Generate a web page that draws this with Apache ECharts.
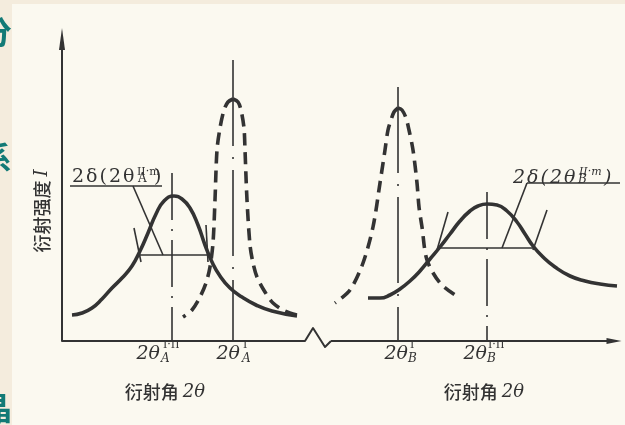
<!DOCTYPE html>
<html>
<head>
<meta charset="utf-8">
<script src="https://cdn.jsdelivr.net/npm/echarts@6/dist/echarts.min.js"></script>
<style>
html,body{margin:0;padding:0;background:#f4ecdd;}
#c{width:625px;height:425px;}
</style>
</head>
<body>
<div id="c"></div>
<script>
// ---------------- data (schematic units: x = 2θ, y = intensity I) ----------------
// broad peak of sample A (solid), sharp reference peak of A (dashed)
const broadA = [[2.0,5.2],[4.0,5.6],[6.0,6.6],[8.0,8.4],[10.0,10.6],[12.0,12.6],[14.0,15.0],[15.6,18.0],[17.2,21.6],[18.8,25.4],[20.4,28.0],[22.4,29.0],[24.0,28.4],[25.6,26.6],[27.2,23.2],[28.6,19.2],[30.0,15.8],[31.6,13.0],[33.6,10.6],[36.0,8.8],[38.8,7.2],[42.0,6.0],[47.0,5.0]];
const sharpA = [[24.2,4.8],[26.0,6.2],[27.6,8.8],[28.8,11.6],[29.6,14.8],[30.2,19.6],[30.6,28.2],[31.0,38.2],[31.6,42.6],[32.4,46.2],[33.2,47.8],[34.2,48.4],[35.2,47.8],[35.8,46.2],[36.4,42.6],[36.6,38.2],[37.0,28.2],[37.6,19.2],[38.2,15.6],[39.0,12.8],[40.6,9.8],[42.2,7.6],[44.6,6.0],[47.0,5.2]];
// sharp reference peak of B (dashed), broad peak of B (solid)
const sharpB = [[54.6,7.6],[57.6,10.2],[60.2,15.6],[62.2,22.8],[63.6,31.6],[64.6,38.2],[65.2,42.2],[65.8,44.2],[66.4,45.8],[67.2,46.6],[68.0,46.2],[68.8,44.6],[69.4,42.2],[70.2,38.2],[71.0,31.6],[71.4,26.8],[72.0,22.8],[73.0,16.2],[75.6,11.6],[79.2,8.8]];
const broadB = [[61.2,8.6],[63.6,8.6],[65.6,9.2],[67.6,10.4],[69.6,12.0],[71.6,14.0],[73.6,16.4],[75.6,18.8],[77.6,21.4],[79.6,24.0],[81.6,26.0],[83.2,27.0],[85.0,27.4],[87.0,27.2],[89.0,26.0],[91.0,23.8],[92.6,21.4],[94.2,19.0],[96.2,16.8],[98.6,14.8],[101.6,13.0],[104.6,12.0],[107.6,11.4],[111.0,11.0]];

// peak position lines (x) and their top ends (y)
const centerX   = [22.0, 34.2, 67.2, 85.0];
const centerTop = [33.6, 56.2, 50.8, 29.8];

// half-width construction lines
const halfA = [[15.2,17.2],[30.0,17.2]];
const halfB = [[75.6,18.6],[94.2,18.6]];
const ticksA = [[[14.4,22.6],[15.8,15.8]], [[28.8,23.2],[29.2,15.8]]];
const ticksB = [[[77.2,25.8],[75.0,18.2]], [[97.0,26.2],[94.2,18.2]]];
const underlineA = [[1.6,31.0],[20.0,31.0]];
const leaderA    = [[14.2,31.0],[20.2,17.2]];
const underlineB = [[93.0,31.6],[111.6,31.6]];
const leaderB    = [[93.0,31.6],[88.0,18.6]];

// x axis with break
const axisXLeft  = [[0,0],[48.6,0],[50.2,2.6],[52.6,-1.2],[53.8,0]];
const axisXRight = [[53.8,0],[110.4,0]];

// texts
const tickBase = ['2θ','2θ','2θ','2θ'];
const tickSub  = ['A','A','B','B'];
const tickSup  = ['I·II','I','I','I·II'];
const formulaBase  = ['2δ(2θ','2δ(2θ'];
const formulaSub   = ['A','B'];
const formulaSup   = ['II·m','II·m'];
const formulaClose = [')',')'];
const xAxisName = ['衍射角','2θ'];
const yAxisName = ['衍射强度','I'];
const edgeChars = ['分','系','晶'];

// ---------------- styles / layout ----------------
const INK = '#333333';
const PAGE = '#fbf9f0';
const TEAL = '#127a76';
const SERIF = '"DejaVu Serif","Liberation Serif",serif';
const CJK = '"Noto Sans CJK SC",sans-serif';
// pixel offsets of tick-label parts relative to their tick line [main right edge, sub left, sup left]
const TICK_LAYOUT = [[-12,-11,-9],[7,9,10],[10,10,12],[0,0,1]];
// formula label offsets relative to underline start: [mainDx, mainDy, subDx, subDy, supDx, supDy, closeDx]
const FORM_LAYOUT = [[2,1,68,-1,67,-19,84],[-14,5,51,3,52,-16,77]];
const FORM_ITALIC = [false, true];

function ls(data, width, type, smooth, z) {
  return {
    type:'line', data:data, symbol:'none', showSymbol:false,
    smooth: smooth || false,
    clip:false, silent:true, animation:false,
    lineStyle:{color:INK, width:width, type:type||'solid', cap:'butt', join:'round'},
    z: z || 3
  };
}
function splitAtPeak(arr){
  let k = 0;
  arr.forEach((p,i)=>{ if (p[1] > arr[k][1]) k = i; });
  return [arr.slice(0,k+1).reverse(), arr.slice(k)];
}

const series = [];
series.push(ls(axisXLeft, 2));
series.push({
  type:'line', clip:false, silent:true, animation:false, showSymbol:true,
  lineStyle:{color:INK, width:2},
  itemStyle:{color:INK},
  data:[
    {value:axisXRight[0], symbol:'none'},
    {value:axisXRight[1], symbol:'triangle', symbolSize:[6,15], symbolRotate:-90}
  ],
  z:3
});
centerX.forEach((x,i)=>{
  const tall = centerTop[i] > 40;
  series.push(ls([[x,centerTop[i]],[x,0]], 1.6, tall ? [86,11,2,11] : [47,9,2,9]));
});
series.push(ls(broadA, 3.6, 'solid', 0.5, 4));
series.push(ls(broadB, 3.6, 'solid', 0.5, 4));
splitAtPeak(sharpA).forEach(h => series.push(ls(h, 3.6, [12,7], 0.3, 4)));
splitAtPeak(sharpB).forEach(h => series.push(ls(h, 3.6, [12,7], 0.3, 4)));
[halfA, halfB, underlineA, leaderA, underlineB, leaderB].forEach(d => series.push(ls(d, 1.6)));
ticksA.concat(ticksB).forEach(d => series.push(ls(d, 1.6)));

const chart = echarts.init(document.getElementById('c'), null, {renderer:'canvas'});
chart.setOption({
  backgroundColor:'#f4ecdd',
  animation:false,
  grid:{left:62, right:5, top:39, bottom:84},
  xAxis:{type:'value', min:0, max:111.6, show:false},
  yAxis:{type:'value', min:0, max:60.4,
    axisLine:{show:true, symbol:['none','triangle'], symbolSize:[6,22], lineStyle:{color:INK, width:2}},
    axisTick:{show:false}, axisLabel:{show:false}, splitLine:{show:false}},
  series: series
});

const px = p => chart.convertToPixel({gridIndex:0}, p);
const g = [];
g.push({type:'rect', shape:{x:12, y:4, width:613, height:421}, style:{fill:PAGE}, z:-10, silent:true});
[[-20,16],[-20,142],[-20,392]].forEach((pos,i)=>{
  g.push({type:'text', x:pos[0], y:pos[1], z:-20, silent:true,
    style:{text:edgeChars[i], font:'bold 32px ' + CJK, fill:TEAL}});
});
function T(x, y, text, font, align, valign, rich){
  const st = {text:text, font:font, fill:INK, align:align, verticalAlign:valign, textAlign:align, textVerticalAlign:valign};
  if (rich) st.rich = rich;
  return {type:'text', x:x, y:y, silent:true, z:10, style:st};
}
// tick labels
centerX.forEach((x,i)=>{
  const p = px([x,0]);
  const L = TICK_LAYOUT[i];
  g.push(T(p[0]+L[0], p[1]+4, tickBase[i], 'italic 19px ' + SERIF, 'right', 'top'));
  g.push(T(p[0]+L[1], p[1]+12, tickSub[i], 'italic 12px ' + SERIF, 'left', 'top'));
  g.push(T(p[0]+L[2], p[1]-1, tickSup[i], '11px ' + SERIF, 'left', 'top'));
});
// formula labels (letter-spaced like the printed original)
[underlineA, underlineB].forEach((u,i)=>{
  const p = px(u[0]);
  const L = FORM_LAYOUT[i];
  const it = FORM_ITALIC[i] ? 'italic' : 'normal';
  const r = {a:{fontFamily:'DejaVu Serif', fontSize:19, fontStyle:it, padding:[0,2,0,0], fill:INK, color:INK}};
  const spaced = Array.from(formulaBase[i]).map(c => '{a|' + c + '}').join('');
  g.push(T(p[0]+L[0], p[1]+L[1], spaced, it + ' 19px ' + SERIF, 'left', 'bottom', r));
  g.push(T(p[0]+L[2], p[1]+L[3], formulaSub[i], it + ' 12px ' + SERIF, 'left', 'bottom'));
  g.push(T(p[0]+L[4], p[1]+L[5], formulaSup[i], it + ' 11px ' + SERIF, 'left', 'top'));
  g.push(T(p[0]+L[6], p[1]+L[1], formulaClose[i], it + ' 19px ' + SERIF, 'left', 'bottom'));
});
// axis names
const rich = {
  cn:{fontFamily:'Noto Sans CJK SC', fontSize:18, fontWeight:500, fill:INK, color:INK},
  it:{fontFamily:'DejaVu Serif', fontStyle:'italic', fontSize:18, fill:INK, color:INK}
};
[165, 484].forEach(cx=>{
  g.push({type:'text', x:cx, y:392, silent:true, z:10,
    style:{text:'{cn|' + xAxisName[0] + '} {it|' + xAxisName[1] + '}', rich:rich, fill:INK,
      align:'center', verticalAlign:'middle', textAlign:'center', textVerticalAlign:'middle', font:'18px ' + CJK}});
});
g.push({type:'text', x:42, y:211, rotation:Math.PI/2, silent:true, z:10,
  style:{text:'{cn|' + yAxisName[0] + '} {it|' + yAxisName[1] + '}', rich:rich, fill:INK,
    align:'center', verticalAlign:'middle', textAlign:'center', textVerticalAlign:'middle', font:'18px ' + CJK}});

chart.setOption({graphic:{elements:g}});
</script>
</body>
</html>
